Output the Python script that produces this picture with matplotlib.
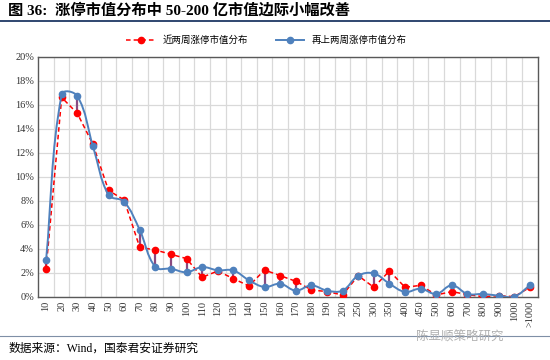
import matplotlib
matplotlib.use("Agg")
import matplotlib.pyplot as plt
from matplotlib.path import Path
from matplotlib.patches import PathPatch
from matplotlib.lines import Line2D
import numpy as np

plt.rcParams["font.family"] = ["Liberation Serif", "Noto Sans CJK SC", "DejaVu Sans"]

categories = ["10", "20", "30", "40", "50", "60", "70", "80", "90", "100",
              "110", "120", "130", "140", "150", "160", "170", "180", "190", "200",
              "250", "300", "350", "400", "450", "500", "600", "700", "800", "900",
              "1000", ">1000"]

# 近两周 (recent two weeks), %
recent = [2.33, 16.6, 15.28, 12.7, 8.86, 8.06, 4.11, 3.89, 3.53, 3.17,
          1.61, 2.14, 1.5, 0.89, 2.22, 1.75, 1.28, 0.56, 0.42, 0.14,
          1.75, 0.78, 2.14, 0.78, 0.94, 0.14, 0.42, 0.17, 0.0, 0.08,
          0.0, 0.78]

# 再上两周 (previous two weeks), %
previous = [3.05, 16.86, 16.72, 12.55, 8.47, 7.92, 5.56, 2.47, 2.33, 2.03,
            2.47, 2.19, 2.19, 1.36, 0.8, 1.08, 0.5, 0.94, 0.5, 0.5,
            1.75, 1.94, 1.08, 0.39, 0.67, 0.22, 0.94, 0.22, 0.22, 0.08,
            0.0, 0.94]

red = "#ff0000"
blue = "#4f81bd"


def smooth_path(xs, ys, sx=15.6, sy=12.0, t=0.35):
    # excel-like smoothed line, tangents worked out in pixel space
    pts = np.column_stack([np.asarray(xs) * sx, np.asarray(ys) * sy]).astype(float)
    n = len(pts)
    tang = []
    for i in range(n):
        a = pts[max(i - 1, 0)]
        b = pts[min(i + 1, n - 1)]
        d = b - a
        tang.append(d / (np.hypot(*d) or 1.0))
    verts = [pts[0]]
    codes = [Path.MOVETO]
    for i in range(n - 1):
        seg = np.hypot(*(pts[i + 1] - pts[i]))
        c1 = pts[i] + tang[i] * seg * t
        c2 = pts[i + 1] - tang[i + 1] * seg * t
        verts += [c1, c2, pts[i + 1]]
        codes += [Path.CURVE4] * 3
    verts = np.array(verts) / [sx, sy]
    return Path(verts, codes)


fig = plt.figure(figsize=(5.5, 3.6), dpi=100)
ax = fig.add_axes([0.0696, 0.176, 0.908, 0.6665])

x = np.arange(len(categories))

# high-low connectors
ax.vlines(x, np.minimum(recent, previous), np.maximum(recent, previous),
          color="#8a4a80", lw=1.6, zorder=2)

ax.plot(x, recent, color=red, ls=(0, (3, 2)), lw=1.1, marker="o", ms=4.5,
        mfc=red, mec=red, zorder=3)
ax.add_patch(PathPatch(smooth_path(x, previous), fill=False, edgecolor=blue,
                       lw=1.4, zorder=4))
ax.plot(x, previous, ls="none", marker="o", ms=4.5, mfc=blue, mec=blue, zorder=5)

ax.set_xlim(-0.5, len(categories) - 0.5)
ax.set_ylim(0, 20)
ax.set_yticks(np.arange(0, 21, 2))
ax.set_yticklabels([f"{v}%" for v in range(0, 21, 2)], fontsize=7.5)
ax.set_xticks(x)
ax.set_xticklabels(categories, rotation=90, fontsize=7.5)
ax.set_xticks(x[:-1] + 0.5, minor=True)
ax.tick_params(axis="both", which="both", length=0, pad=3, colors="#333333")
ax.grid(True, axis="y", color="#d9d9d9", lw=0.9)
ax.grid(True, axis="x", which="minor", color="#d9d9d9", lw=0.9)
ax.set_axisbelow(True)
for s in ax.spines.values():
    s.set_color("#595959")
    s.set_linewidth(1.0)

handles = [
    Line2D([], [], color=red, ls=(0, (3, 2)), lw=1.1, marker="o", ms=4.5),
    Line2D([], [], color=blue, lw=1.4, marker="o", ms=4.5),
]
fig.legend(handles, ["近两周涨停市值分布", "再上两周涨停市值分布"],
           loc="center", bbox_to_anchor=(0.485, 0.888), ncol=2, frameon=False,
           prop={"family": ["Noto Sans CJK SC"], "size": 6.8}, columnspacing=3,
           handlelength=3)

fig.text(0.015, 0.972, "图 36:  涨停市值分布中 50-200 亿市值边际小幅改善",
         fontsize=11, fontweight="bold", va="center",
         family=["Liberation Serif", "Noto Sans CJK SC"])
fig.add_artist(Line2D([0.0, 1.0], [0.942, 0.942], color="#1f3864", lw=1.3))
fig.add_artist(Line2D([0.0, 1.0], [0.066, 0.066], color="#7f8fa6", lw=0.8))
fig.text(0.015, 0.032, "数据来源：Wind，国泰君安证券研究", fontsize=8.5,
         va="center", family=["Liberation Serif", "Noto Sans CJK SC"])
fig.text(0.915, 0.064, "陈显顺策略研究", fontsize=9, color="#b0b0b0",
         ha="right", va="center", family=["Noto Sans CJK SC"])

fig.savefig("out.png", dpi=100)
